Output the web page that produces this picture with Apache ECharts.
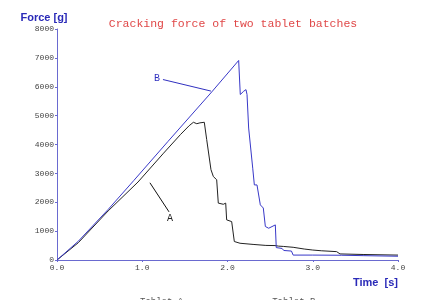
<!DOCTYPE html>
<html>
<head>
<meta charset="utf-8">
<script src="https://cdn.jsdelivr.net/npm/echarts@6/dist/echarts.min.js"></script>
<style>html,body{margin:0;padding:0;background:#fff;}#c{width:444px;height:300px;}</style>
</head>
<body>
<div id="c"></div>
<script>
var titleText = 'Cracking force of two tablet batches';
var yAxisName = 'Force [g]';
var xAxisName = 'Time  [s]';
var seriesNames = ['Tablet A', 'Tablet B'];

var timeA = [0, 0.25, 0.6, 0.95, 1.25, 1.45, 1.55, 1.6, 1.64, 1.677, 1.7, 1.728, 1.756, 1.776, 1.806, 1.834, 1.873, 1.892, 1.951, 1.979, 1.99, 2.049, 2.08, 2.147, 2.3, 2.45, 2.557, 2.6, 2.655, 2.77, 2.9, 3.0, 3.1, 3.28, 3.32, 3.6, 4.0];
var forceA = [0, 600, 1700, 2700, 3700, 4350, 4650, 4770, 4720, 4750, 4740, 4770, 4170, 4110, 3130, 2890, 2780, 1970, 1930, 1970, 1390, 1330, 640, 580, 540, 505, 500, 480, 470, 440, 380, 345, 320, 290, 210, 190, 170];

var timeB = [0, 0.25, 0.6, 0.9, 1.3, 1.815, 2.131, 2.15, 2.19, 2.217, 2.229, 2.248, 2.27, 2.296, 2.315, 2.346, 2.366, 2.385, 2.42, 2.444, 2.483, 2.561, 2.572, 2.64, 2.66, 2.75, 2.77, 3.0, 3.34, 3.6, 4.0];
var forceB = [0, 650, 1750, 2750, 4100, 5820, 6910, 5730, 5845, 5900, 5730, 4570, 4550, 3180, 2600, 2600, 2660, 1910, 1800, 1160, 1100, 1215, 430, 400, 330, 310, 170, 170, 165, 150, 130];

// annotation pointer lines, in data units [time, force]
var annotB = { label: 'B', from: [1.243, 6250], to: [1.806, 5850] };
var annotA = { label: 'A', from: [1.09, 2674], to: [1.314, 1667] };

function pairs(t, f) { return t.map(function (v, i) { return [v, f[i]]; }); }

var axisColor = '#6a6ad0';
var tickFont = { fontFamily: 'Liberation Mono', fontSize: 8, color: '#444' };

var chart = echarts.init(document.getElementById('c'), null, { renderer: 'canvas' });
chart.setOption({
  animation: false,
  backgroundColor: '#fff',
  title: {
    text: titleText, left: 228, top: 13, textAlign: 'center',
    textStyle: { fontFamily: 'Liberation Mono', fontSize: 11.5, fontWeight: 'normal', color: '#e04848' }
  },
  legend: {
    data: seriesNames, left: 129, top: 292, itemGap: 83, itemWidth: 0, itemHeight: 0,
    textStyle: { fontFamily: 'Liberation Mono', fontSize: 9, color: '#555' }
  },
  grid: { left: 57, right: 46, top: 29, bottom: 40 },
  xAxis: {
    type: 'value', min: 0, max: 4, interval: 1,
    name: xAxisName, nameLocation: 'end', nameGap: 0,
    nameTextStyle: { fontFamily: 'Liberation Sans', fontWeight: 'bold', fontSize: 11, color: '#2a2ab8', align: 'right', verticalAlign: 'top', padding: [17, 0, 0, 0] },
    axisLine: { show: true, lineStyle: { color: axisColor, width: 1 } },
    axisTick: { show: true, length: 2, lineStyle: { color: axisColor } },
    axisLabel: Object.assign({ margin: 4, formatter: function (v) { return v.toFixed(1); } }, tickFont),
    splitLine: { show: false }
  },
  yAxis: {
    type: 'value', min: 0, max: 8000, interval: 1000,
    name: yAxisName, nameLocation: 'end', nameGap: 6,
    nameTextStyle: { fontFamily: 'Liberation Sans', fontWeight: 'bold', fontSize: 11, color: '#2a2ab8', align: 'center', padding: [0, 26, 0, 0] },
    axisLine: { show: true, lineStyle: { color: axisColor, width: 1 } },
    axisTick: { show: true, length: 2, lineStyle: { color: axisColor } },
    axisLabel: Object.assign({ margin: 3, formatter: function (v) { return String(v); } }, tickFont),
    splitLine: { show: false }
  },
  series: [
    {
      name: seriesNames[0], type: 'line', data: pairs(timeA, forceA), showSymbol: false,
      lineStyle: { color: '#222', width: 1 }, itemStyle: { color: '#222' },
      markLine: {
        silent: true, symbol: 'none',
        lineStyle: { color: '#111', width: 1, type: 'solid' },
        label: { show: true, position: 'end', formatter: annotA.label, fontFamily: 'Liberation Mono', fontSize: 10, color: '#222', distance: 2 },
        data: [[{ coord: annotA.from }, { coord: annotA.to }]]
      }
    },
    {
      name: seriesNames[1], type: 'line', data: pairs(timeB, forceB), showSymbol: false,
      lineStyle: { color: '#3838c8', width: 1 }, itemStyle: { color: '#3838c8' },
      markLine: {
        silent: true, symbol: 'none',
        lineStyle: { color: '#3030c0', width: 1, type: 'solid' },
        label: { show: true, position: 'start', formatter: annotB.label, fontFamily: 'Liberation Mono', fontSize: 10, color: '#3030c0', distance: 3 },
        data: [[{ coord: annotB.from }, { coord: annotB.to }]]
      }
    }
  ]
});
</script>
</body>
</html>
